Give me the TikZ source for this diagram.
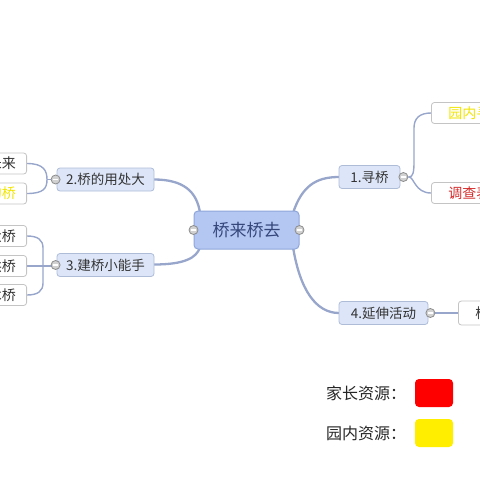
\documentclass[tikz,border=0pt]{standalone}
\usepackage{fontspec}
\setmainfont{Noto Sans CJK SC}
\newfontfamily\cjk{Noto Sans CJK SC}
\definecolor{cfill}{HTML}{B4C7F2}
\definecolor{cdraw}{HTML}{8FA6DA}
\definecolor{ctext}{HTML}{35467A}
\definecolor{mfill}{HTML}{DDE6F8}
\definecolor{mdraw}{HTML}{AEBCD8}
\definecolor{lnk}{HTML}{98A6CC}
\definecolor{ldraw}{HTML}{C4C4C4}
\definecolor{ytext}{HTML}{F2E600}
\definecolor{rtext}{HTML}{D42A2A}
\definecolor{legred}{HTML}{FF0000}
\definecolor{legyel}{HTML}{FFEE00}
\begin{document}
\begin{tikzpicture}[x=1pt,y=-1pt,
  centerbox/.style={draw=cdraw,fill=cfill,rounded corners=4pt,line width=1pt,minimum width=105pt,minimum height=38pt,inner sep=0pt,text=ctext,font=\cjk\fontsize{17}{17}\selectfont},
  mainbox/.style={draw=mdraw,fill=mfill,rounded corners=3pt,line width=0.8pt,minimum height=23pt,inner sep=0pt,text=black!80,font=\cjk\fontsize{13.5}{14}\selectfont},
  leafbox/.style={draw=ldraw,fill=white,rounded corners=3pt,line width=0.8pt,minimum height=21pt,inner sep=0pt,text=black!80,font=\cjk\fontsize{14}{14}\selectfont},
  leftleaf/.style={leafbox,anchor=east,minimum width=70pt,inner xsep=0pt},
  mainlink/.style={draw=lnk,line width=2.3pt},
  leaflink/.style={draw=lnk,line width=1.4pt},
  knob/.style={circle,draw=black!45,fill=black!18,line width=0.8pt,minimum size=9pt,inner sep=0pt,
    path picture={\draw[white,line width=1.2pt] ([xshift=-2.5pt]path picture bounding box.center) -- ([xshift=2.5pt]path picture bounding box.center);}},
  legtext/.style={font=\cjk\fontsize{16}{16}\selectfont,text=black!85,anchor=west,inner sep=0pt}
]
\useasboundingbox (0,0) rectangle (480,480);
\clip (0,0) rectangle (480,480);
% connectors (main)
\coordinate (cl1) at (200,213);
\coordinate (cl2) at (200,247);
\coordinate (cr1) at (293,213);
\coordinate (cr2) at (293,247);
\draw[mainlink] (154,179.5) .. controls (184,179.5) and (197,192) .. (cl1);
\draw[mainlink] (154,264.5) .. controls (184,264.5) and (197,258) .. (cl2);
\draw[mainlink] (cr1) .. controls (302,186) and (316,177) .. (339,177);
\draw[mainlink] (cr2) .. controls (300,290) and (316,313) .. (339,313);
% leaf connectors
\draw[leaflink] (402,177) -- (409,177) .. controls (413,177) and (414,172) .. (414,162) -- (414,128) .. controls (414,118) and (420,113) .. (431,113);
\draw[leaflink] (409,177) .. controls (414,177) and (415,193) .. (431,193);
\draw[leaflink] (429,313) -- (458,313);
\draw[leaflink] (27,163.5) .. controls (44,163.5) and (47,171) .. (47,179.5) .. controls (47,188) and (44,193.5) .. (27,193.5);
\draw[leaflink] (47,179.5) -- (56,179.5);
\draw[leaflink] (27,236) .. controls (38,236) and (43,240) .. (43,248) -- (43,283) .. controls (43,291) and (38,295) .. (27,295);
\draw[leaflink] (27,266) -- (56,266);
% nodes
\node[centerbox] (c) at (246.5,230) {桥来桥去};
\node[mainbox,minimum width=61pt] (n1) at (369.5,177) {1.寻桥};
\node[mainbox,minimum width=89pt] (n4) at (383.5,313) {4.延伸活动};
\node[mainbox,minimum width=97pt] (n2) at (105.5,179.5) {2.桥的用处大};
\node[mainbox,minimum width=97pt] (n3) at (105.5,265) {3.建桥小能手};
% leaves (left, cut by the picture edge)
\node[leftleaf] (a1) at (27,163.5) {};
\node[leftleaf] (a2) at (27,193.5) {};
\node[leftleaf] (b1) at (27,236) {};
\node[leftleaf] (b2) at (27,266) {};
\node[leftleaf] (b3) at (27,295) {};
\node[font=\cjk\fontsize{14}{14}\selectfont,text=black!80,anchor=east,inner sep=0pt] at (16,163.5) {未来};
\node[font=\cjk\fontsize{14}{14}\selectfont,text=ytext,anchor=east,inner sep=0pt] at (16,193.5) {的桥};
\node[font=\cjk\fontsize{14}{14}\selectfont,text=black!80,anchor=east,inner sep=0pt] at (16,236) {大桥};
\node[font=\cjk\fontsize{14}{14}\selectfont,text=black!80,anchor=east,inner sep=0pt] at (16,266) {拱桥};
\node[font=\cjk\fontsize{14}{14}\selectfont,text=black!80,anchor=east,inner sep=0pt] at (16,295) {木桥};
% leaves (right)
\node[leafbox,anchor=west,text width=70pt,align=left,minimum width=80pt,text=ytext] (r1) at (431,113) {\hspace*{12pt}园内寻};
\node[leafbox,anchor=west,text width=70pt,align=left,minimum width=80pt,text=rtext] (r2) at (431,193) {\hspace*{12pt}调查表};
\node[leafbox,anchor=west,text width=70pt,align=left,minimum width=80pt,minimum height=24pt] (r3) at (458,313) {\hspace*{12pt}桥};
% knobs
\node[knob] at (c.west) {};
\node[knob] at (c.east) {};
\node[knob] at ([xshift=3pt]n1.east) {};
\node[knob] at ([xshift=2pt]n4.east) {};
\node[knob] at ([xshift=-1pt]n2.west) {};
\node[knob] at ([xshift=-1pt]n3.west) {};
% legend
\node[legtext] (l1) at (326,393) {家长资源：};
\node[legtext] (l2) at (326,433) {园内资源：};
\fill[legred,rounded corners=4pt] (415,379) rectangle (453,407);
\fill[legyel,rounded corners=4pt] (415,419) rectangle (453,447);
\end{tikzpicture}
\end{document}
